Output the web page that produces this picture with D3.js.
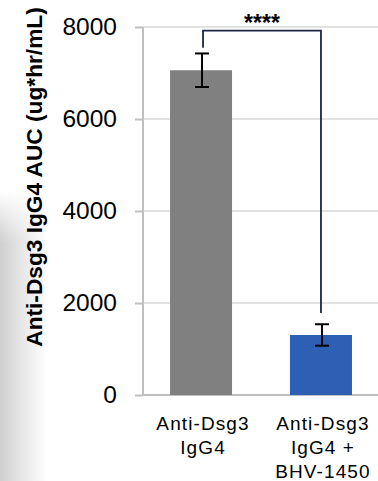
<!DOCTYPE html>
<html>
<head>
<meta charset="utf-8">
<script src="https://cdn.jsdelivr.net/npm/d3@7"></script>
<style>
  html, body { margin: 0; padding: 0; background: #ffffff; }
  svg { display: block; }
</style>
</head>
<body>
<svg id="chart" width="378" height="481"></svg>
<script>
// Group names (multi-line labels) and AUC means with their error
const categories = [
  ["Anti-Dsg3", "IgG4"],
  ["Anti-Dsg3", "IgG4 +", "BHV-1450"]
];
const aucMeans = [7060, 1305];
const aucErrors = [365, 233];
const barColors = ["#808080", "#2d5fb4"];
const yTicks = [0, 2000, 4000, 6000, 8000];
// Significance bracket: top level, and where each leg stops
const bracketTop = 7920;
const bracketLegEnds = [7550, 1780];
const significance = "****";
const yTitle = "Anti-Dsg3 IgG4 AUC (ug*hr/mL)";

const svg = d3.select("#chart");
const W = 378, H = 481;
const axisX = 143, plotRight = 378;

// Soft grey shading along the left edge
const defs = svg.append("defs");
const hg = defs.append("linearGradient").attr("id", "edgeH").attr("x1", 0).attr("x2", 1).attr("y1", 0).attr("y2", 0);
hg.append("stop").attr("offset", "0%").attr("stop-color", "#cfcfcf");
hg.append("stop").attr("offset", "45%").attr("stop-color", "#e6e6e6");
hg.append("stop").attr("offset", "100%").attr("stop-color", "#ffffff");
const vg = defs.append("linearGradient").attr("id", "edgeV").attr("x1", 0).attr("x2", 0).attr("y1", 0).attr("y2", 1);
vg.append("stop").attr("offset", "0%").attr("stop-color", "#000");
vg.append("stop").attr("offset", "18%").attr("stop-color", "#fff");
vg.append("stop").attr("offset", "100%").attr("stop-color", "#fff");
defs.append("mask").attr("id", "edgeMask").attr("maskContentUnits", "userSpaceOnUse")
  .append("rect").attr("x", 0).attr("y", 190).attr("width", 48).attr("height", H - 190).attr("fill", "url(#edgeV)");
svg.append("rect").attr("x", 0).attr("y", 190).attr("width", 48).attr("height", H - 190)
  .attr("fill", "url(#edgeH)").attr("mask", "url(#edgeMask)");

const y = d3.scaleLinear().domain([0, 8000]).range([395, 27]);
const x = d3.scaleBand().domain(d3.range(categories.length))
  .range([141, 381]).paddingInner(0.483).paddingOuter(0.242);

// Gridlines
svg.append("g").selectAll("line").data(yTicks.filter(d => d > 0)).join("line")
  .attr("x1", axisX).attr("x2", plotRight)
  .attr("y1", d => y(d)).attr("y2", d => y(d))
  .attr("stroke", "#d9d9d9").attr("stroke-width", 1.6);

// Y axis with outward ticks
const yAxis = d3.axisLeft(y).tickValues(yTicks).tickSize(8).tickPadding(18).tickFormat(d3.format("d"));
const ga = svg.append("g").attr("transform", `translate(${axisX},0)`).call(yAxis);
ga.select(".domain").remove();
ga.selectAll(".tick line").attr("stroke", "#bfbfbf").attr("stroke-width", 2);
ga.selectAll(".tick text")
  .attr("font-family", "'Liberation Sans', Arial, sans-serif")
  .attr("font-size", 24.5).attr("fill", "#000");
ga.append("line").attr("x1", 0).attr("x2", 0).attr("y1", y(8000)).attr("y2", y(0))
  .attr("stroke", "#bfbfbf").attr("stroke-width", 2);

// Baseline
svg.append("line").attr("x1", axisX).attr("x2", plotRight).attr("y1", y(0)).attr("y2", y(0))
  .attr("stroke", "#bfbfbf").attr("stroke-width", 2);

// Bars
svg.append("g").selectAll("rect").data(aucMeans).join("rect")
  .attr("x", (d, i) => x(i)).attr("width", x.bandwidth())
  .attr("y", d => y(d)).attr("height", d => y(0) - y(d))
  .attr("fill", (d, i) => barColors[i]);

// Error bars
const cap = 7;
const eb = svg.append("g").attr("stroke", "#000").attr("stroke-width", 2);
aucMeans.forEach((m, i) => {
  const cx = x(i) + x.bandwidth() / 2 + 1;
  const hi = y(m + aucErrors[i]), lo = y(m - aucErrors[i]);
  eb.append("line").attr("x1", cx).attr("x2", cx).attr("y1", hi).attr("y2", lo);
  eb.append("line").attr("x1", cx - cap).attr("x2", cx + cap).attr("y1", hi).attr("y2", hi);
  eb.append("line").attr("x1", cx - cap).attr("x2", cx + cap).attr("y1", lo).attr("y2", lo);
});

// Significance bracket
const bx0 = x(0) + x.bandwidth() / 2 + 2, bx1 = x(1) + x.bandwidth() / 2;
svg.append("path")
  .attr("d", `M${bx0},${y(bracketLegEnds[0])}V${y(bracketTop)}H${bx1}V${y(bracketLegEnds[1])}`)
  .attr("fill", "none").attr("stroke", "#1c2843").attr("stroke-width", 1.8);
svg.append("text").attr("x", (bx0 + bx1) / 2).attr("y", 31)
  .attr("text-anchor", "middle")
  .attr("font-family", "'Liberation Sans', Arial, sans-serif")
  .attr("font-size", 23).attr("font-weight", "bold").attr("fill", "#000")
  .text(significance);

// Category labels
const lab = svg.append("g")
  .attr("font-family", "'Liberation Sans', Arial, sans-serif")
  .attr("font-size", 19).attr("letter-spacing", 1.1).attr("fill", "#000")
  .attr("text-anchor", "middle");
categories.forEach((lines, i) => {
  const cx = x(i) + x.bandwidth() / 2 + 2;
  lines.forEach((t, j) => {
    lab.append("text").attr("x", cx).attr("y", 430 + j * 23.8).text(t);
  });
});

// Y axis title
svg.append("text")
  .attr("transform", "translate(42,177) rotate(-90)")
  .attr("text-anchor", "middle")
  .attr("font-family", "'Liberation Sans', Arial, sans-serif")
  .attr("font-size", 22.7).attr("font-weight", "bold").attr("fill", "#000")
  .text(yTitle);
</script>
</body>
</html>
